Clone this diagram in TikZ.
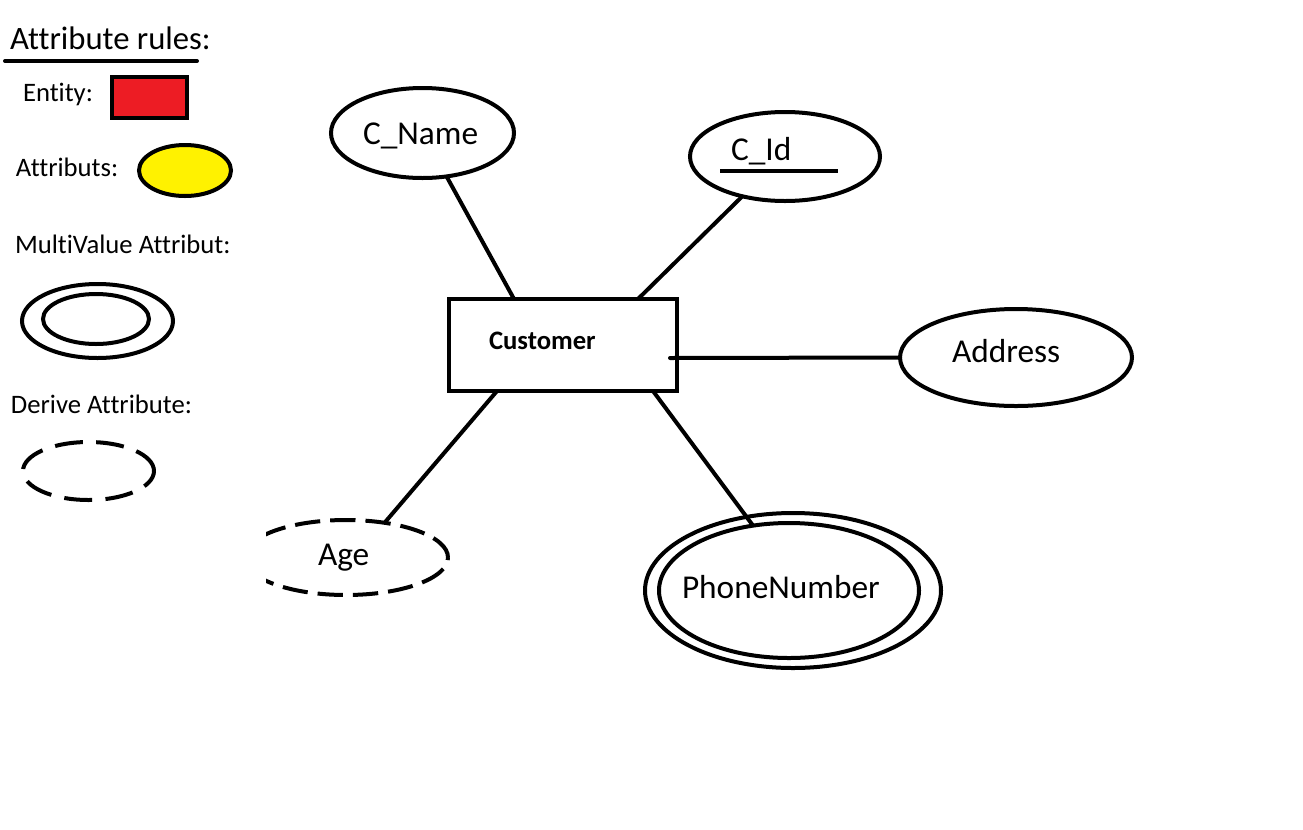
\documentclass[tikz,border=0pt]{standalone}
\usepackage{fontspec}
\setmainfont{Carlito}[Ligatures={NoCommon}]
\usetikzlibrary{shapes.geometric,calc}
\definecolor{paintred}{RGB}{237,28,36}
\definecolor{paintyellow}{RGB}{255,242,0}
\begin{document}
\begin{tikzpicture}[x=0.75pt,y=-0.75pt,
  shp/.style={draw,line width=3pt,inner sep=0pt,outer sep=0pt},
  ell/.style={shp,ellipse},
  box/.style={shp,rectangle},
  conn/.style={line width=3pt},
  dashA/.style={dash pattern=on 19pt off 7.5pt},
  dashB/.style={dash pattern=on 21pt off 10pt},
  lbl/.style={anchor=base west,inner sep=0pt,outer sep=0pt},
  big/.style={font=\fontsize{25}{30}\selectfont},
  small/.style={font=\fontsize{20}{24}\selectfont},
  title/.style={font=\fontsize{24.5}{29}\selectfont}]
\useasboundingbox (0,0) rectangle (1303,829);
% legend
\node[lbl,title] (ttl) at (10,49) {Attribute rules:};
\coordinate (ulA) at (5,61);
\coordinate (ulB) at (197,61);
\draw[line width=3pt,line cap=round] (ulA) -- (ulB);
\node[lbl,small] (tent) at (23,101) {Entity:};
\node[box,fill=paintred,minimum width=56.25pt,minimum height=30.75pt] (lent) at (149.5,97.5) {};
\node[lbl,small] (tatt) at (16,176.5) {Attributs:};
\node[ell,fill=paintyellow,minimum width=69pt,minimum height=38.25pt] (latt) at (185,170.5) {};
\node[lbl,small] (tmv) at (15,253.3) {MultiValue Attribut:};
\node[ell,minimum width=113.25pt,minimum height=55.5pt] (lmvo) at (97.5,321) {};
\node[ell,minimum width=79.5pt,minimum height=37.5pt] (lmvi) at (96,319) {};
\node[lbl,small] (tder) at (11,413.3) {Derive Attribute:};
\node[ell,dashB,minimum width=98.25pt,minimum height=43.5pt] (lder) at (88.5,471) {};
% main diagram
\node[box,minimum width=171pt,minimum height=69pt] (cust) at (563,345) {};
\node[lbl,font=\fontsize{20}{24}\selectfont\bfseries] (custt) at (489,349) {Customer};
\node[ell,minimum width=137.25pt,minimum height=67.5pt] (cname) at (422.5,133) {};
\node[lbl,big] (cnamet) at (363,144) {C\_Name};
\node[ell,minimum width=142.5pt,minimum height=66.75pt] (cid) at (785,156.5) {};
\node[lbl,big] (cidt) at (731,160) {C\_Id};
\coordinate (cidA) at ($(cid.center)+(-65,14.5)$);
\coordinate (cidB) at ($(cid.center)+(53,14.5)$);
\draw[line width=3pt] (cidA) -- (cidB);
\node[ell,minimum width=174pt,minimum height=72.75pt] (addr) at (1016,357.5) {};
\node[lbl,big] (addrt) at (952,362.7) {Address};
\begin{scope}
\clip (266,500) rectangle (480,620);
\node[ell,dashA,minimum width=153pt,minimum height=56.25pt] (age) at (346,557.5) {};
\end{scope}
\node[lbl,big] (aget) at (318,565) {Age};
\node[ell,minimum width=222pt,minimum height=116.25pt] (phoneo) at (793,590.5) {};
\node[ell,minimum width=195pt,minimum height=101.25pt] (phone) at (789,590.5) {};
\node[lbl,big] (phonet) at (682,598) {PhoneNumber};
% connectors
\draw[conn] (cname.-61.4) -- ($(cust.north)+(-49,0)$);
\draw[conn] (cid.223) -- ($(cust.north)+(75,0)$);
\draw[conn,line cap=round] ($(cust.east)+(-7,13)$) -- (addr.west);
\draw[conn] ($(cust.south)+(-66,0)$) -- (age.42);
\draw[conn] ($(cust.south)+(90,0)$) -- (phone.119);
\end{tikzpicture}
\end{document}
